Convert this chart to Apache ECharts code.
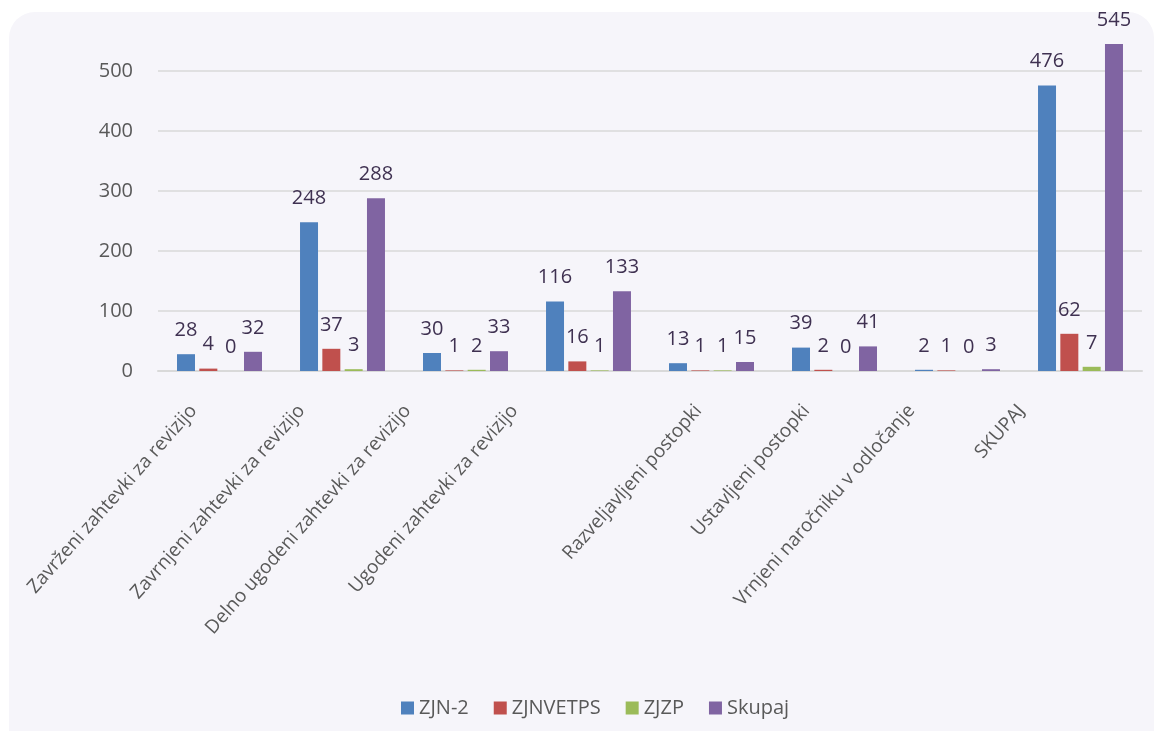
<!DOCTYPE html>
<html>
<head>
<meta charset="utf-8">
<script src="https://cdn.jsdelivr.net/npm/echarts@6/dist/echarts.min.js"></script>
<style>
  html, body { margin: 0; padding: 0; background: #ffffff; }
  #chart { width: 1157px; height: 731px; }
</style>
</head>
<body>
<div id="chart"></div>
<script>
const categories = [
  'Zavrženi zahtevki za revizijo',
  'Zavrnjeni zahtevki za revizijo',
  'Delno ugodeni zahtevki za revizijo',
  'Ugodeni zahtevki za revizijo',
  'Razveljavljeni postopki',
  'Ustavljeni postopki',
  'Vrnjeni naročniku v odločanje',
  'SKUPAJ'
];
const seriesNames = ['ZJN-2', 'ZJNVETPS', 'ZJZP', 'Skupaj'];
const zjn2 = [28, 248, 30, 116, 13, 39, 2, 476];
const zjnvetps = [4, 37, 1, 16, 1, 2, 1, 62];
const zjzp = [0, 3, 2, 1, 1, 0, 0, 7];
const skupaj = [32, 288, 33, 133, 15, 41, 3, 545];
const yTicks = [0, 100, 200, 300, 400, 500];

// styling: horizontal shift (px, to the left) of each rotated category label
const labelShift = [26, 41, 58, 74, 13, 28, 46, 59];
const colors = ['#4f81bd', '#c0504d', '#9bbb59', '#8064a2'];
const FONT = 'Open Sans';

const chart = echarts.init(document.getElementById('chart'));
const values = [zjn2, zjnvetps, zjzp, skupaj];

const barSeries = seriesNames.map((name, i) => ({
  name: name,
  type: 'bar',
  data: values[i],
  barWidth: 18,
  barGap: '24%',
  itemStyle: { color: colors[i] },
  label: {
    show: true,
    position: 'top',
    distance: 14,
    color: '#3f3151',
    fontSize: 20,
    fontFamily: FONT
  }
}));

const categoryLabelSeries = {
  name: 'categoryLabels',
  type: 'custom',
  silent: true,
  clip: false,
  z: 10,
  data: categories.map((c, i) => [i, 0]),
  encode: { x: 0, y: 1 },
  renderItem: function (params, api) {
    const idx = api.value(0);
    const p = api.coord([idx, 0]);
    return {
      type: 'text',
      x: p[0] - labelShift[idx],
      y: p[1] + 36.5,
      rotation: 48.5 * Math.PI / 180,
      style: {
        text: categories[idx],
        align: 'right',
        verticalAlign: 'middle',
        fill: '#595959',
        font: '19px "Open Sans"'
      }
    };
  }
};

chart.setOption({
  backgroundColor: 'transparent',
  animation: false,
  graphic: [{
    type: 'rect',
    z: -10,
    silent: true,
    shape: { x: 9, y: 12, width: 1145, height: 745, r: 26 },
    style: { fill: '#f6f5fa' }
  }],
  grid: { left: 158, right: 15, top: 41, bottom: 360, containLabel: false },
  legend: {
    data: seriesNames,
    left: 396,
    top: 693,
    icon: 'rect',
    itemWidth: 13,
    itemHeight: 13,
    itemGap: 25,
    textStyle: { color: '#595959', fontSize: 20, fontFamily: FONT }
  },
  xAxis: {
    type: 'category',
    data: categories,
    axisLine: { show: true, lineStyle: { color: '#d9d9d9', width: 2 } },
    axisTick: { show: false },
    axisLabel: { show: false }
  },
  yAxis: {
    type: 'value',
    min: yTicks[0],
    max: 550,
    interval: yTicks[1] - yTicks[0],
    axisLine: { show: false },
    axisTick: { show: false },
    axisLabel: {
      color: '#595959',
      fontSize: 20,
      fontFamily: FONT,
      margin: 25,
      showMaxLabel: false
    },
    splitLine: { show: true, showMaxLine: false, lineStyle: { color: '#d9d9d9', width: 1.6 } }
  },
  series: barSeries.concat([categoryLabelSeries])
});
</script>
</body>
</html>
